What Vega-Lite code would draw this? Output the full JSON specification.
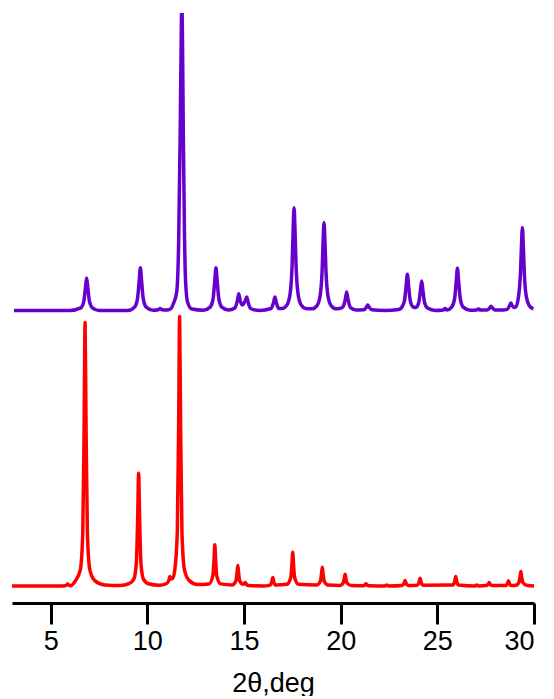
{
  "$schema": "https://vega.github.io/schema/vega-lite/v6.json",
  "width": 522,
  "height": 590,
  "padding": {"left": 12, "top": 13, "right": 0, "bottom": 0},
  "background": "white",
  "config": {"view": {"stroke": null}},
  "datasets": {
    "p": [
      [3.1,291.5],[4.5,291.5],[6.0,291.5],[6.56,294.1],[6.71,300.3],[6.80,314.3],[6.86,324],[6.92,314.3],[7.01,300.3],[7.16,294.1],[7.5,291.5],
      [9.0,291.5],[9.34,294.9],[9.49,303.1],[9.58,321.5],[9.64,334.3],[9.70,321.5],[9.79,303.1],[9.94,294.9],[10.3,291.8],[10.56,292.3],[10.66,293.5],[10.76,292.3],
      [11.0,292],[11.2,293],[11.35,298.5],[11.52,310],[11.62,360],[11.70,470],[11.75,560],[11.78,600],[11.82,560],[11.86,470],[11.92,370],[11.98,320],[12.08,300],[12.3,293],
      [12.9,291.8],[13.25,294.9],[13.40,303.1],[13.49,321.5],[13.55,334.3],[13.61,321.5],[13.70,303.1],[13.85,294.9],[14.2,292],
      [14.53,294],[14.66,301.6],[14.73,308.3],[14.80,301.6],[14.92,297],[15.07,301.6],[15.14,305],[15.21,300],[15.34,293.5],[15.8,291.5],
      [16.40,293.5],[16.53,299.6],[16.60,305],[16.67,299.6],[16.80,293.5],[16.99,293.6],[17.24,297.7],[17.39,309],[17.49,337.8],[17.54,370.7],[17.59,394.3],[17.64,370.7],[17.69,337.8],[17.79,309],[17.94,297.7],[18.19,293.6],
      [18.54,293.3],[18.79,296.8],[18.94,306.4],[19.04,331],[19.09,359.1],[19.14,379.3],[19.19,359.1],[19.24,331],[19.34,306.4],[19.49,296.8],[19.74,293.3],
      [19.95,293.5],[20.11,295],[20.24,302.6],[20.31,310],[20.38,302.6],[20.51,294.3],[20.8,292],[21.2,292.3],[21.33,294.8],[21.4,297],[21.47,294.8],[21.6,292.3],[22.3,291.5],
      [23.0,292.5],[23.15,294.4],[23.30,301.3],[23.39,316.8],[23.45,327.7],[23.51,316.8],[23.60,301.3],[23.75,295],[23.89,294.5],[24.04,299.5],[24.13,312.2],[24.19,321],[24.25,312.2],[24.34,299.5],[24.49,293.9],
      [24.9,291.5],[25.3,292],[25.4,293.5],[25.5,292],[25.74,294.9],[25.89,302.9],[25.98,321],[26.04,333.7],[26.10,321],[26.19,302.9],[26.34,294.9],[26.7,291.8],
      [27.03,292],[27.13,293],[27.23,292],[27.58,292.1],[27.71,294],[27.78,295.7],[27.85,294],[27.98,292.1],[28.4,292],[28.6,292.6],[28.73,296],[28.8,299],[28.87,296.5],[28.97,294.5],
      [29.05,295],[29.2,305.6],[29.3,328.8],[29.35,355],[29.4,374.3],[29.45,355],[29.5,328.8],[29.6,305.6],[29.75,296.5],[29.97,293]
    ],
    "r": [
      [3.0,16],[5.5,16],[5.73,16.2],[5.83,17],[5.88,18],[5.93,17],[6.03,16.3],[6.28,21.3],[6.53,31.8],[6.66,68.7],[6.73,174],[6.78,279.5],[6.83,174],[6.90,68.7],[7.03,31.8],[7.28,21.3],[7.8,17],
      [8.6,16.5],[9.05,18.3],[9.30,22.8],[9.43,38.6],[9.50,83.7],[9.55,128.8],[9.60,83.7],[9.67,38.6],[9.80,22.8],[10.05,18.3],[10.6,16.8],
      [11.0,18.5],[11.12,22],[11.17,25.5],[11.22,23],[11.30,23.5],[11.42,32],[11.55,69.9],[11.62,177.7],[11.67,285.5],[11.72,177.7],[11.79,69.9],[11.92,32.2],[12.17,21.4],[12.6,17.5],
      [13.19,18.1],[13.39,26.3],[13.45,42.8],[13.49,57.2],[13.53,42.8],[13.59,26.3],[13.79,18.1],[14.38,17],[14.58,21.1],[14.64,29.3],[14.68,36.5],[14.72,29.3],[14.78,21.1],
      [14.95,17.8],[15.02,18.3],[15.07,19.5],[15.12,17.8],[15.22,16.4],[16.0,16],[16.34,16.9],[16.44,20.3],[16.49,24.5],[16.54,20.3],[16.64,16.9],
      [17.22,17.7],[17.42,24.5],[17.48,38],[17.52,49.8],[17.56,38],[17.62,24.5],[17.82,17.7],[18.75,16.9],[18.95,20.7],[19.01,28.2],[19.05,34.8],[19.09,28.2],[19.15,20.7],[19.35,16.9],
      [19.98,16.6],[20.13,19],[20.19,23.7],[20.23,27.8],[20.27,23.7],[20.33,19],[20.53,16.6],[21.16,16.2],[21.26,17.1],[21.31,18.2],[21.36,17.1],[21.46,16.2],
      [22.28,16.1],[22.38,17],[22.48,16.1],[23.18,16.6],[23.28,18.8],[23.33,21.5],[23.38,18.8],[23.48,16.6],[23.96,16.8],[24.06,19.9],[24.11,23.8],[24.16,19.9],[24.26,16.8],
      [25.8,17],[25.9,20.8],[25.95,25.5],[26.0,20.8],[26.1,17],[26.94,16.1],[27.04,17],[27.14,16.1],[27.53,16.4],[27.63,17.8],[27.68,19.5],[27.73,17.8],[27.83,16.4],
      [28.53,16.5],[28.63,18.6],[28.68,21.2],[28.73,18.6],[28.83,16.5],[29.07,16.7],[29.22,19.6],[29.28,25.4],[29.32,30.5],[29.36,25.4],[29.42,19.6],[29.62,16.7],[30.0,16]
    ]
  },
  "layer": [
    {
      "data": {"name": "p"},
      "transform": [{"calculate": "datum[0]", "as": "t"}, {"calculate": "datum[1]", "as": "v"}],
      "mark": {"type": "line", "color": "#6600CC", "strokeWidth": 3.5, "strokeJoin": "round", "interpolate": "monotone", "clip": true},
      "encoding": {
        "x": {"field": "t", "type": "quantitative", "scale": {"domain": [3, 30], "nice": false, "zero": false},
          "axis": {"values": [5, 10, 15, 20, 25, 30], "title": "2θ,deg", "grid": false, "tickSize": 21, "tickWidth": 3, "domainWidth": 3, "domainColor": "black", "tickColor": "black", "labelFont": "Liberation Sans", "labelFontSize": 27, "labelColor": "black", "labelPadding": 4, "titleFont": "Liberation Sans", "titleFontSize": 27, "titleFontWeight": "normal", "titleColor": "black", "titlePadding": 16}},
        "y": {"field": "v", "type": "quantitative", "scale": {"domain": [-1, 589], "nice": false, "zero": false}, "axis": null}
      }
    },
    {
      "data": {"name": "r"},
      "transform": [{"calculate": "datum[0]", "as": "t"}, {"calculate": "datum[1]", "as": "v"}],
      "mark": {"type": "line", "color": "#FF0000", "strokeWidth": 3.5, "strokeJoin": "round", "interpolate": "monotone", "clip": true},
      "encoding": {
        "x": {"field": "t", "type": "quantitative"},
        "y": {"field": "v", "type": "quantitative"}
      }
    }
  ]
}
